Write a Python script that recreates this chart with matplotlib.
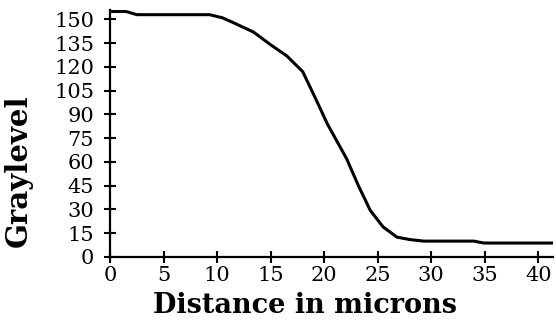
import matplotlib
matplotlib.use("Agg")
import matplotlib.pyplot as plt

distance = [0, 1.5, 2.5, 5, 9.3, 10.5, 11.5, 13.4, 15.0, 16.5, 18.0, 19.2, 20.3, 22.1, 23.2, 24.3, 25.5, 26.8, 28.0, 29.3, 34.0, 34.9, 41.3]
graylevel = [155, 155, 153, 153, 153, 151, 148, 142, 134, 127, 117, 100, 84, 62, 45, 29.5, 19, 12.5, 11, 10, 10, 8.8, 8.8]
xticks = [0, 5, 10, 15, 20, 25, 30, 35, 40]
yticks = [0, 15, 30, 45, 60, 75, 90, 105, 120, 135, 150]

plt.rcParams['font.family'] = ['DejaVu Serif']
fig = plt.figure(figsize=(5.56, 3.2), dpi=100)
ax = fig.add_axes([0.198, 0.197, 0.797, 0.772])
ax.plot(distance, graylevel, color='black', lw=2.2)
ax.set_xlim(0, 41.4)
ax.set_ylim(0, 156)
ax.set_xticks(xticks)
ax.set_yticks(yticks)
for s in ['top', 'right']:
    ax.spines[s].set_visible(False)
for s in ['left', 'bottom']:
    ax.spines[s].set_linewidth(1.6)
ax.tick_params(direction='inout', length=9, width=1.5, labelsize=15)
ax.tick_params(axis='x', pad=2)
ax.tick_params(axis='y', pad=7)
ax.set_xlabel('Distance in microns', fontsize=19.5, fontweight='bold')
ax.xaxis.set_label_coords(0.44, -0.14)
ax.set_ylabel('Graylevel', fontsize=21, fontweight='bold')
ax.yaxis.set_label_coords(-0.175, 0.35)
fig.savefig('out.png', dpi=100)
